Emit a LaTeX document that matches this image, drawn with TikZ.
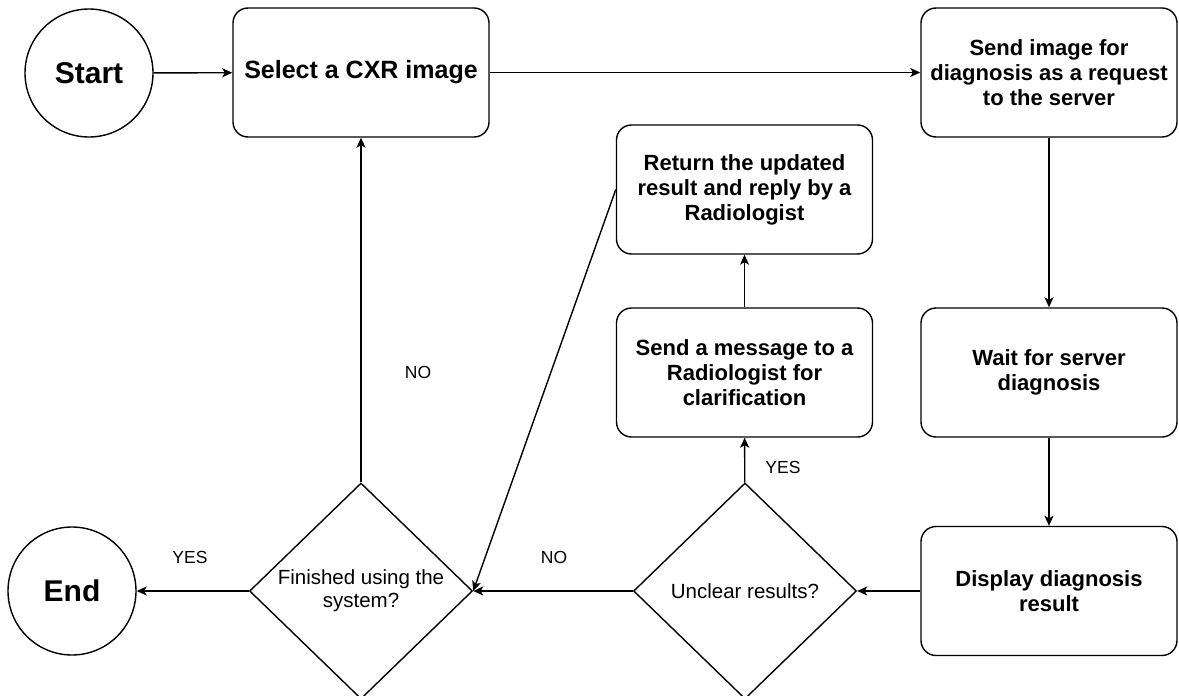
\documentclass[tikz,border=0pt]{standalone}
\usepackage{fontspec}
\setmainfont{Liberation Sans}
\usetikzlibrary{shapes.geometric,arrows.meta}

\begin{document}
\begin{tikzpicture}[x=1pt,y=-1pt,
  line width=1.4pt,
  proc/.style={draw, rounded corners=15pt, minimum width=256pt, minimum height=129pt,
    align=center, inner sep=0pt, font=\fontsize{22}{25}\selectfont\bfseries},
  term/.style={draw, circle, minimum size=128pt, inner sep=0pt,
    font=\fontsize{30}{36}\selectfont\bfseries},
  decision/.style={draw, diamond, minimum width=223pt, minimum height=216pt,
    inner sep=0pt, align=center, font=\fontsize{20.5}{23}\selectfont},
  lbl/.style={font=\fontsize{17.5}{20}\selectfont},
  arr/.style={-{Stealth[length=10pt,width=9pt,inset=2.5pt]}}
]
% page area
\fill[white] (0,0) rectangle (1179,696);
\useasboundingbox (0,0) rectangle (1179,696);
\clip (0,0) rectangle (1179,696);

% terminals and steps
\node[term] (start) at (89,73) {Start};
\node[proc, font=\fontsize{25}{29}\selectfont\bfseries] (sel) at (361,72.5) {Select a CXR image};
\node[proc] (req) at (1049,72.5) {Send image for\\diagnosis as a request\\to the server};
\node[proc] (ret) at (744.5,189.5) {Return the updated\\result and reply by a\\Radiologist};
\node[proc] (msg) at (744.5,372.5) {Send a message to a\\Radiologist for\\clarification};
\node[proc] (wait) at (1049,372.5) {Wait for server\\diagnosis};
\node[proc] (disp) at (1049,591) {Display diagnosis\\result};
\node[decision] (unc) at (745,591) {Unclear results?};
\node[decision] (fin) at (361,591) {Finished using the\\system?};
\node[term] (end) at (72,591) {End};

% flow
\draw[arr] (start) -- (sel);
\draw[arr] (sel) -- (req);
\draw[arr] (req) -- (wait);
\draw[arr] (wait) -- (disp);
\draw[arr] (disp) -- (unc);
\draw[arr] (unc) -- (fin);
\draw[arr] (fin) -- (end);
\draw[arr] (fin) -- (sel);
\draw[arr] (unc) -- (msg);
\draw[arr] (msg) -- (ret);
\draw[arr] (ret.west) -- (fin.east);

% branch labels
\node[lbl] (yesEnd) at (190,557) {YES};
\node[lbl] (noFin) at (554,557) {NO};
\node[lbl] (yesMsg) at (783,467) {YES};
\node[lbl] (noSel) at (418,372) {NO};
\end{tikzpicture}
\end{document}
